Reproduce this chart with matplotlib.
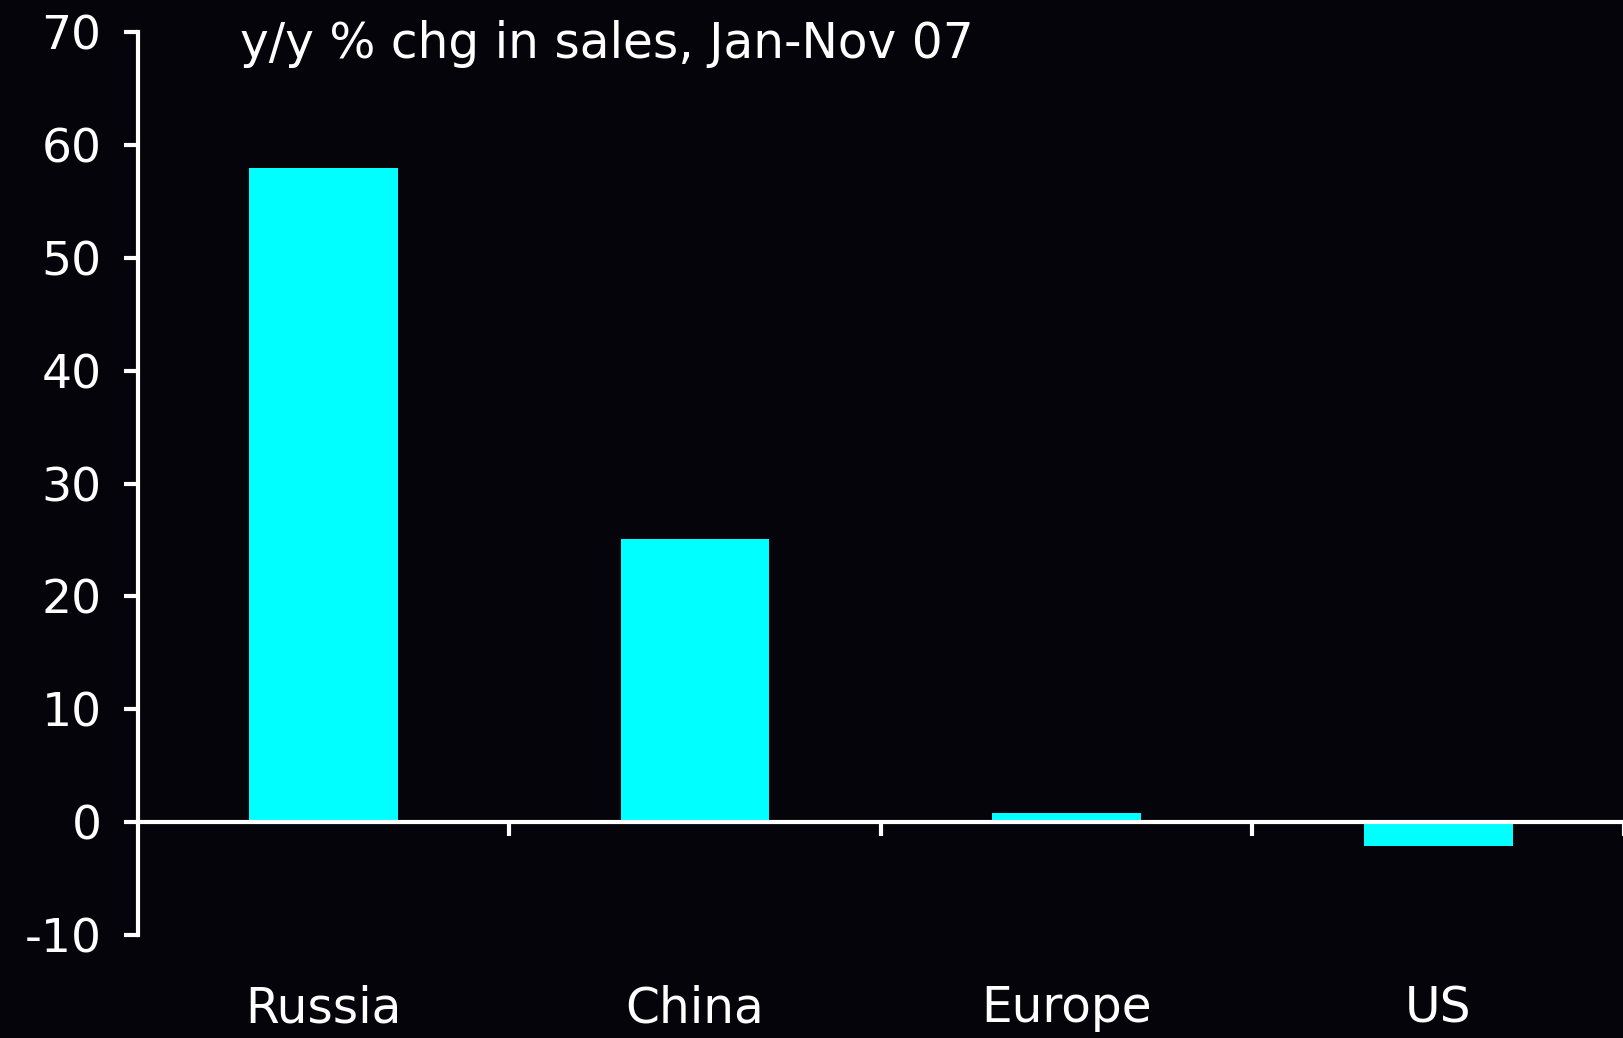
import numpy as np
import matplotlib.pyplot as plt

# data
regions = ['Russia', 'China', 'Europe', 'US']
sales_chg = [58.0, 25.1, 0.8, -2.1]
yticks = [-10, 0, 10, 20, 30, 40, 50, 60, 70]
title_txt = 'y/y % chg in sales, Jan-Nov 07'

bg = '#05040a'
fg = 'white'
bar_col = '#00ffff'

plt.rcParams['font.family'] = ['DejaVu Sans']

fig = plt.figure(figsize=(16.24, 10.38), dpi=100, facecolor=bg)
axs = fig.add_axes([0.0848, 0.0992, 1 - 0.0848, 0.969 - 0.0992])
axs.set_facecolor(bg)

x = np.arange(len(regions))
axs.bar(x, sales_chg, width=0.4, color=bar_col, zorder=2)

axs.set_xlim(-0.5, len(regions) - 0.5)
axs.set_ylim(-10, 70)

# spines: left axis and zero line only
for s in ['top', 'right']:
    axs.spines[s].set_visible(False)
axs.spines['left'].set_color(fg)
axs.spines['left'].set_linewidth(3)
axs.spines['bottom'].set_position(('data', 0))
axs.spines['bottom'].set_color(fg)
axs.spines['bottom'].set_linewidth(3)
axs.spines['bottom'].set_zorder(3)

axs.set_yticks(yticks)
axs.set_yticklabels([str(v) for v in yticks])
axs.tick_params(axis='y', direction='out', length=10, width=3, colors=fg,
                labelsize=34, pad=16)

# x ticks at category boundaries, labels placed lower down
axs.set_xticks(x + 0.5)
axs.set_xticklabels([])
axs.tick_params(axis='x', direction='out', length=10, width=3, colors=fg)
for xi, name in zip(x, regions):
    axs.text(xi, -0.081, name, transform=axs.get_xaxis_transform(),
             ha='center', va='center', fontsize=35, color=fg, clip_on=False)

axs.text(0.0688, 0.987, title_txt, transform=axs.transAxes,
         ha='left', va='center', fontsize=35, color=fg)

plt.savefig('out.png', dpi=100, facecolor=bg)
